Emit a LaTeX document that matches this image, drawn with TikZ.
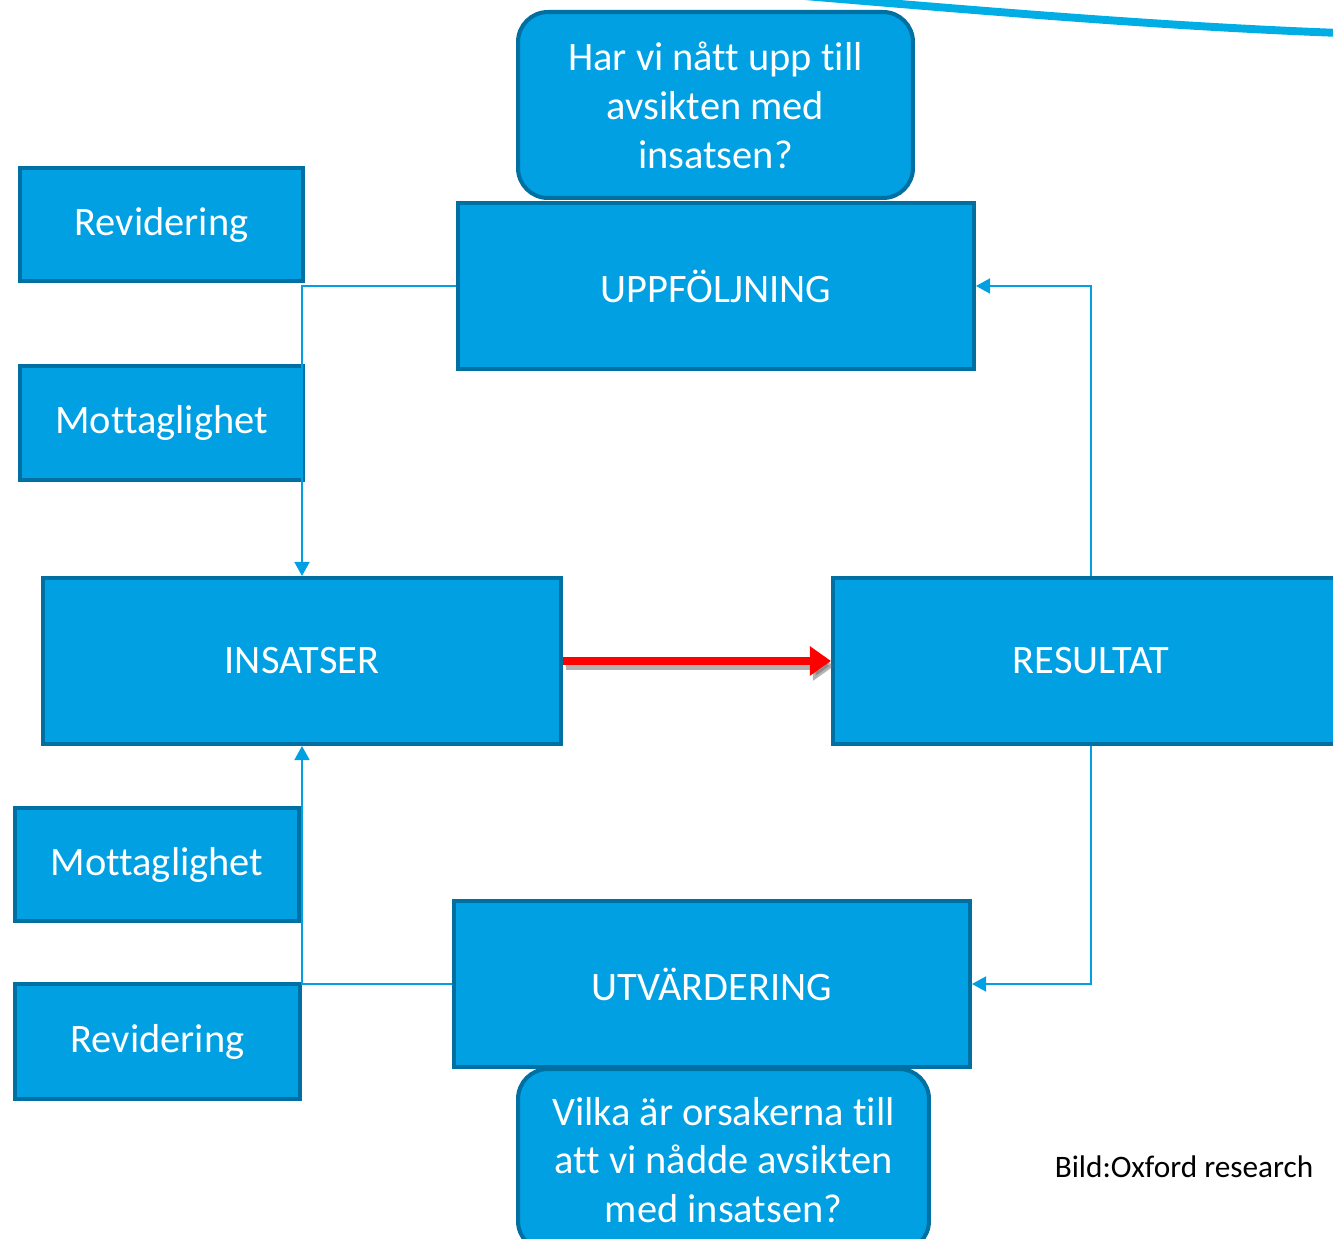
\documentclass[tikz,border=0pt]{standalone}
\usepackage{fontspec}
\setmainfont{Carlito}[Ligatures=NoCommon]
\usetikzlibrary{arrows.meta,calc}
\definecolor{boxfill}{RGB}{0,160,227}
\definecolor{boxline}{RGB}{0,112,163}
\definecolor{connblue}{RGB}{0,160,227}
\definecolor{swoosh}{RGB}{0,174,229}
\tikzset{
  px/.style={x=0.02cm,y=-0.02cm},
  blockbox/.style={draw=boxline,fill=boxfill,line width=2.3pt,text=white,
    font=\fontsize{23}{27.8}\selectfont,align=center,inner sep=0pt},
  qbox/.style={blockbox,rounded corners=17pt},
  conn/.style={draw=connblue,line width=1.1pt,-{Triangle[length=8pt,width=8.5pt]}},
  redarrow/.style={draw=red,line width=4.5pt,-{Triangle[length=12pt,width=16pt]}},
}
\begin{document}
\begin{tikzpicture}[px]
\useasboundingbox (0,0) rectangle (1333,1239);
\clip (0,0) rectangle (1333,1239);
% swoosh at top right
\draw[swoosh,line width=4.5pt] (780,-6) .. controls (950,8) and (1150,26) .. (1340,33);
% boxes
\node[blockbox,minimum width=5.66cm,minimum height=2.26cm] (rev1) at (161.5,224.5) {Revidering};
\node[blockbox,minimum width=5.66cm,minimum height=2.28cm] (mot1) at (161.5,423) {Mottaglighet};
\node[blockbox,minimum width=10.36cm,minimum height=3.32cm] (ins) at (302,661) {INSATSER};
\node[blockbox,minimum width=10.32cm,minimum height=3.32cm] (res) at (1091,661) {RESULTAT};
\node[blockbox,minimum width=10.32cm,minimum height=3.32cm] (upp) at (716,286) {UPPFÖLJNING};
\node[qbox,minimum width=7.9cm,minimum height=3.72cm] (q1) at (715.5,105) {Har vi nått upp till\\avsikten med\\insatsen?};
\node[blockbox,minimum width=5.68cm,minimum height=2.26cm] (mot2) at (157,864.5) {Mottaglighet};
\node[blockbox,minimum width=5.7cm,minimum height=2.3cm] (rev2) at (157.5,1041.5) {Revidering};
\node[blockbox,minimum width=10.32cm,minimum height=3.32cm] (utv) at (712,984) {UTVÄRDERING};
\node[qbox,minimum width=8.22cm,minimum height=3.64cm] (q2) at (723.5,1160) {Vilka är orsakerna till\\att vi nådde avsikten\\med insatsen?};
\node[font=\fontsize{17.8}{21}\selectfont,text=black,inner sep=0pt] (src) at (1184,1167) {Bild:Oxford research};
% connectors
\draw[conn] (upp.west) -| (ins.north);
\draw[conn] (utv.west) -| (ins.south);
\draw[conn] (res.north) |- (upp.east);
\draw[conn] (res.south) |- (utv.east);
% red arrow with shadow
\draw[draw=black!60,opacity=0.5,line width=4.5pt,-{Triangle[length=12pt,width=16pt]}] ($(ins.east)+(3,5)$) -- ($(res.west)+(3,5)$);
\draw[redarrow] (ins.east) -- (res.west);
\end{tikzpicture}
\end{document}
